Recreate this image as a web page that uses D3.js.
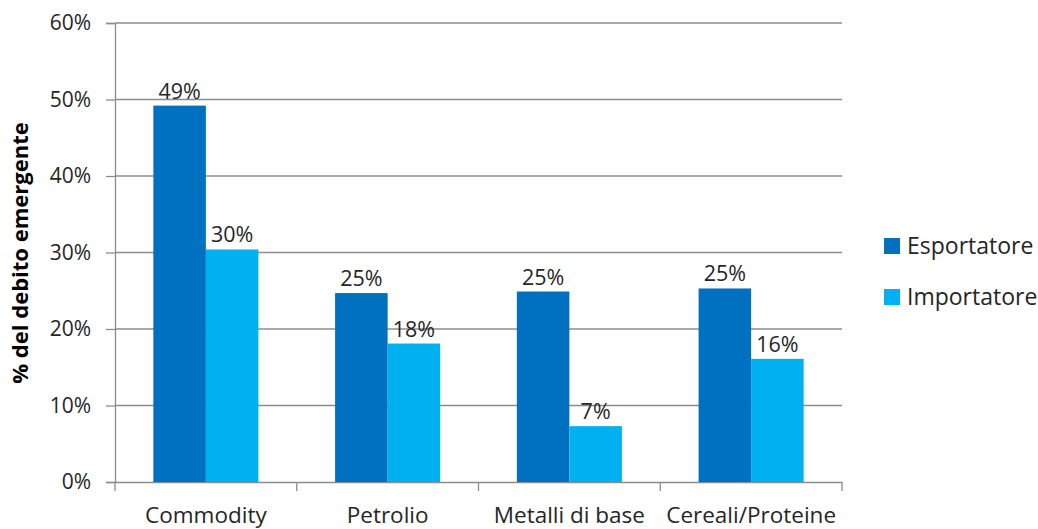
<!DOCTYPE html>
<html>
<head>
<meta charset="utf-8">
<script src="https://cdn.jsdelivr.net/npm/d3@7"></script>
<style>
  body { margin: 0; background: #fff; }
  text { font-family: "Open Sans", sans-serif; fill: #262626; }
</style>
</head>
<body>
<div id="chart"></div>
<script>
// data
const categories = ["Commodity", "Petrolio", "Metalli di base", "Cereali/Proteine"];
const seriesNames = ["Esportatore", "Importatore"];
const esportatore = [49.2, 24.7, 24.9, 25.3];
const importatore = [30.4, 18.1, 7.3, 16.1];
const labelsEsp = ["49%", "25%", "25%", "25%"];
const labelsImp = ["30%", "18%", "7%", "16%"];
const yTicks = [0, 10, 20, 30, 40, 50, 60];

const colors = ["#0070C0", "#00B0F0"];

const svgWidth = 1038;
const svgHeight = 529;

const margin = { top: 23, right: 196, bottom: 47, left: 115 };
const chartWidth = svgWidth - margin.left - margin.right;
const chartHeight = svgHeight - margin.top - margin.bottom;

const svg = d3.select("#chart").append("svg")
    .attr("width", svgWidth)
    .attr("height", svgHeight);

const g = svg.append("g")
    .attr("transform", `translate(${margin.left}, ${margin.top})`);

const xScale = d3.scaleBand()
    .domain(categories)
    .range([0, chartWidth]);

const xInner = d3.scaleBand()
    .domain(seriesNames)
    .range([0, xScale.bandwidth()])
    .paddingOuter(0.73)
    .paddingInner(0);

const yScale = d3.scaleLinear()
    .domain([0, 60])
    .range([chartHeight, 0]);

// gridlines
g.append("g")
    .selectAll("line").data(yTicks.filter(d => d > 0))
    .enter().append("line")
    .attr("x1", 0)
    .attr("x2", chartWidth)
    .attr("y1", d => yScale(d))
    .attr("y2", d => yScale(d))
    .attr("stroke", "#8c8c8c")
    .attr("stroke-width", 1.3);

// y axis
const yAxis = d3.axisLeft(yScale)
    .tickValues(yTicks)
    .tickFormat(d => d + "%")
    .tickSize(9)
    .tickPadding(15);

const yAxisG = g.append("g").call(yAxis);
yAxisG.select(".domain").attr("stroke", "#8c8c8c").attr("stroke-width", 1.3);
yAxisG.selectAll(".tick line").attr("stroke", "#8c8c8c").attr("stroke-width", 1.3);
yAxisG.selectAll(".tick text")
    .attr("font-size", "21px")
    .attr("font-family", "Open Sans, sans-serif")
    .style("fill", "#262626");

// x axis
const xAxis = d3.axisBottom(xScale)
    .tickSize(0)
    .tickPadding(25)
    .tickSizeOuter(0);

const xAxisG = g.append("g")
    .attr("transform", `translate(0, ${chartHeight})`)
    .call(xAxis);
xAxisG.select(".domain").attr("stroke", "#8c8c8c").attr("stroke-width", 1.3);
xAxisG.selectAll(".tick text")
    .attr("font-size", "22.5px")
    .attr("font-family", "Open Sans, sans-serif")
    .style("fill", "#262626");

// category separator ticks
const sepTicks = categories.map(c => xScale(c)).concat([chartWidth]);
xAxisG.selectAll(".sep").data(sepTicks)
    .enter().append("line")
    .attr("class", "sep")
    .attr("x1", d => d)
    .attr("x2", d => d)
    .attr("y1", 0)
    .attr("y2", 9)
    .attr("stroke", "#8c8c8c")
    .attr("stroke-width", 1.3);

// bars
const rows = categories.map((c, i) => ({
    cat: c,
    vals: [
        { s: seriesNames[0], v: esportatore[i], lab: labelsEsp[i], col: colors[0] },
        { s: seriesNames[1], v: importatore[i], lab: labelsImp[i], col: colors[1] }
    ]
}));

const groups = g.selectAll(".grp").data(rows)
    .enter().append("g")
    .attr("class", "grp")
    .attr("transform", d => `translate(${xScale(d.cat)}, 0)`);

groups.selectAll("rect").data(d => d.vals)
    .enter().append("rect")
    .attr("x", d => xInner(d.s))
    .attr("y", d => yScale(d.v))
    .attr("width", xInner.bandwidth())
    .attr("height", d => chartHeight - yScale(d.v))
    .attr("fill", d => d.col);

groups.selectAll(".lab").data(d => d.vals)
    .enter().append("text")
    .attr("class", "lab")
    .attr("x", d => xInner(d.s) + xInner.bandwidth() / 2)
    .attr("y", d => yScale(d.v) - 7)
    .attr("text-anchor", "middle")
    .attr("font-size", "21.5px")
    .text(d => d.lab);

// y axis title
svg.append("text")
    .attr("transform", `translate(28, ${margin.top + 230}) rotate(-90)`)
    .attr("text-anchor", "middle")
    .attr("font-size", "22px")
    .attr("font-weight", "bold")
    .style("fill", "#000")
    .text("% del debito emergente");

// legend
const legend = svg.append("g")
    .attr("transform", "translate(884, 238)");

const legItems = legend.selectAll("g").data(seriesNames)
    .enter().append("g")
    .attr("transform", (d, i) => `translate(0, ${i * 51})`);

legItems.append("rect")
    .attr("width", 16)
    .attr("height", 16)
    .attr("fill", (d, i) => colors[i]);

legItems.append("text")
    .attr("x", 23)
    .attr("y", 16)
    .attr("font-size", "23px")
    .text(d => d);
</script>
</body>
</html>
